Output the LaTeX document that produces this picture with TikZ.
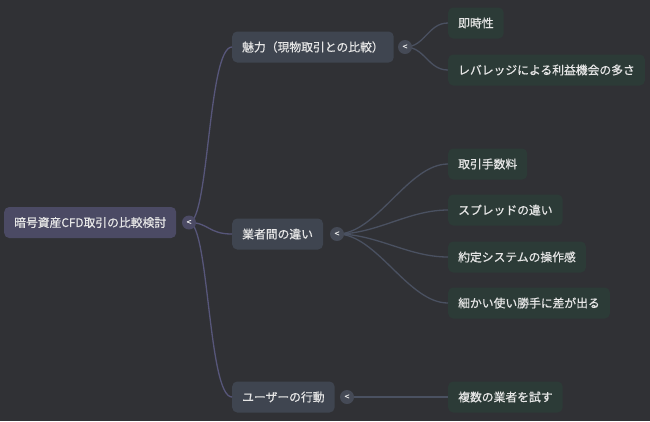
\documentclass[tikz,border=0pt]{standalone}
\usepackage{fontspec}
\setmainfont{Noto Sans CJK JP}[FakeBold=0.6]
\usetikzlibrary{positioning, calc}

\definecolor{bgc}{HTML}{303135}
\definecolor{rootfill}{HTML}{4B4A64}
\definecolor{midfill}{HTML}{3F4550}
\definecolor{leaffill}{HTML}{2C3B37}
\definecolor{rootline}{HTML}{57567A}
\definecolor{midline}{HTML}{4A5161}
\definecolor{foldfill}{HTML}{454A56}
\definecolor{txtc}{HTML}{E6E6E6}

\begin{document}
\begin{tikzpicture}[
    x=1bp, y=-1bp,
    box/.style={rectangle, rounded corners=5bp, inner xsep=10bp, minimum height=31bp,
                anchor=west, text=txtc, font=\fontsize{11.8bp}{14bp}\selectfont},
    rootbox/.style={box, fill=rootfill},
    midbox/.style={box, fill=midfill},
    leafbox/.style={box, fill=leaffill},
    fold/.style={circle, inner sep=0pt, minimum size=14bp, text=txtc,
                 font=\fontsize{8.5bp}{8.5bp}\selectfont},
    rootedge/.style={draw=rootline, line width=1.3bp},
    midedge/.style={draw=midline, line width=1.3bp},
]

% =================================================================
%  BACKGROUND
% =================================================================
\fill[bgc] (0,0) rectangle (650,421);
\useasboundingbox (0,0) rectangle (650,421);

% =================================================================
%  ROOT
% =================================================================
\node[rootbox] (root) at (4,222.5) {暗号資産CFD取引の比較検討};
\coordinate (rootk) at (189,222.5);

% =================================================================
%  BRANCHES
% =================================================================
\node[midbox] (attr) at (232,47)  {魅力（現物取引との比較）};
\node[midbox] (diff) at (232,234) {業者間の違い};
\node[midbox] (user) at (232,397) {ユーザーの行動};

\coordinate (attrk) at (405,47);
\coordinate (diffk) at (337,234);
\coordinate (userk) at (347,397);

% =================================================================
%  LEAVES
% =================================================================
\node[leafbox] (inst)   at (448,23)  {即時性};
\node[leafbox] (lev)    at (448,70)  {レバレッジによる利益機会の多さ};

\node[leafbox] (fee)    at (448,164) {取引手数料};
\node[leafbox] (spread) at (448,210) {スプレッドの違い};
\node[leafbox] (exec)   at (448,257) {約定システムの操作感};
\node[leafbox] (usab)   at (448,303) {細かい使い勝手に差が出る};

\node[leafbox] (trial)  at (448,397) {複数の業者を試す};

% =================================================================
%  CONNECTORS
% =================================================================
\draw[rootedge] (rootk) .. controls +(20,0) and +(-24,0) .. (attr.west);
\draw[rootedge] (rootk) .. controls +(20,0) and +(-24,0) .. (diff.west);
\draw[rootedge] (rootk) .. controls +(20,0) and +(-24,0) .. (user.west);

\draw[midedge] (attrk) .. controls +(20,0) and +(-20,0) .. (inst.west);
\draw[midedge] (attrk) .. controls +(20,0) and +(-20,0) .. (lev.west);

\draw[midedge] (diffk) .. controls +(40,0) and +(-40,0) .. (fee.west);
\draw[midedge] (diffk) .. controls +(40,0) and +(-40,0) .. (spread.west);
\draw[midedge] (diffk) .. controls +(40,0) and +(-40,0) .. (exec.west);
\draw[midedge] (diffk) .. controls +(40,0) and +(-40,0) .. (usab.west);

\draw[midedge] (userk) -- (trial.west);

% =================================================================
%  FOLD MARKERS
% =================================================================
\node[fold, fill=rootfill] (rootc) at (rootk) {<};
\node[fold, fill=foldfill] (attrc) at (attrk) {<};
\node[fold, fill=foldfill] (diffc) at (diffk) {<};
\node[fold, fill=foldfill] (userc) at (userk) {<};

\end{tikzpicture}
\end{document}
